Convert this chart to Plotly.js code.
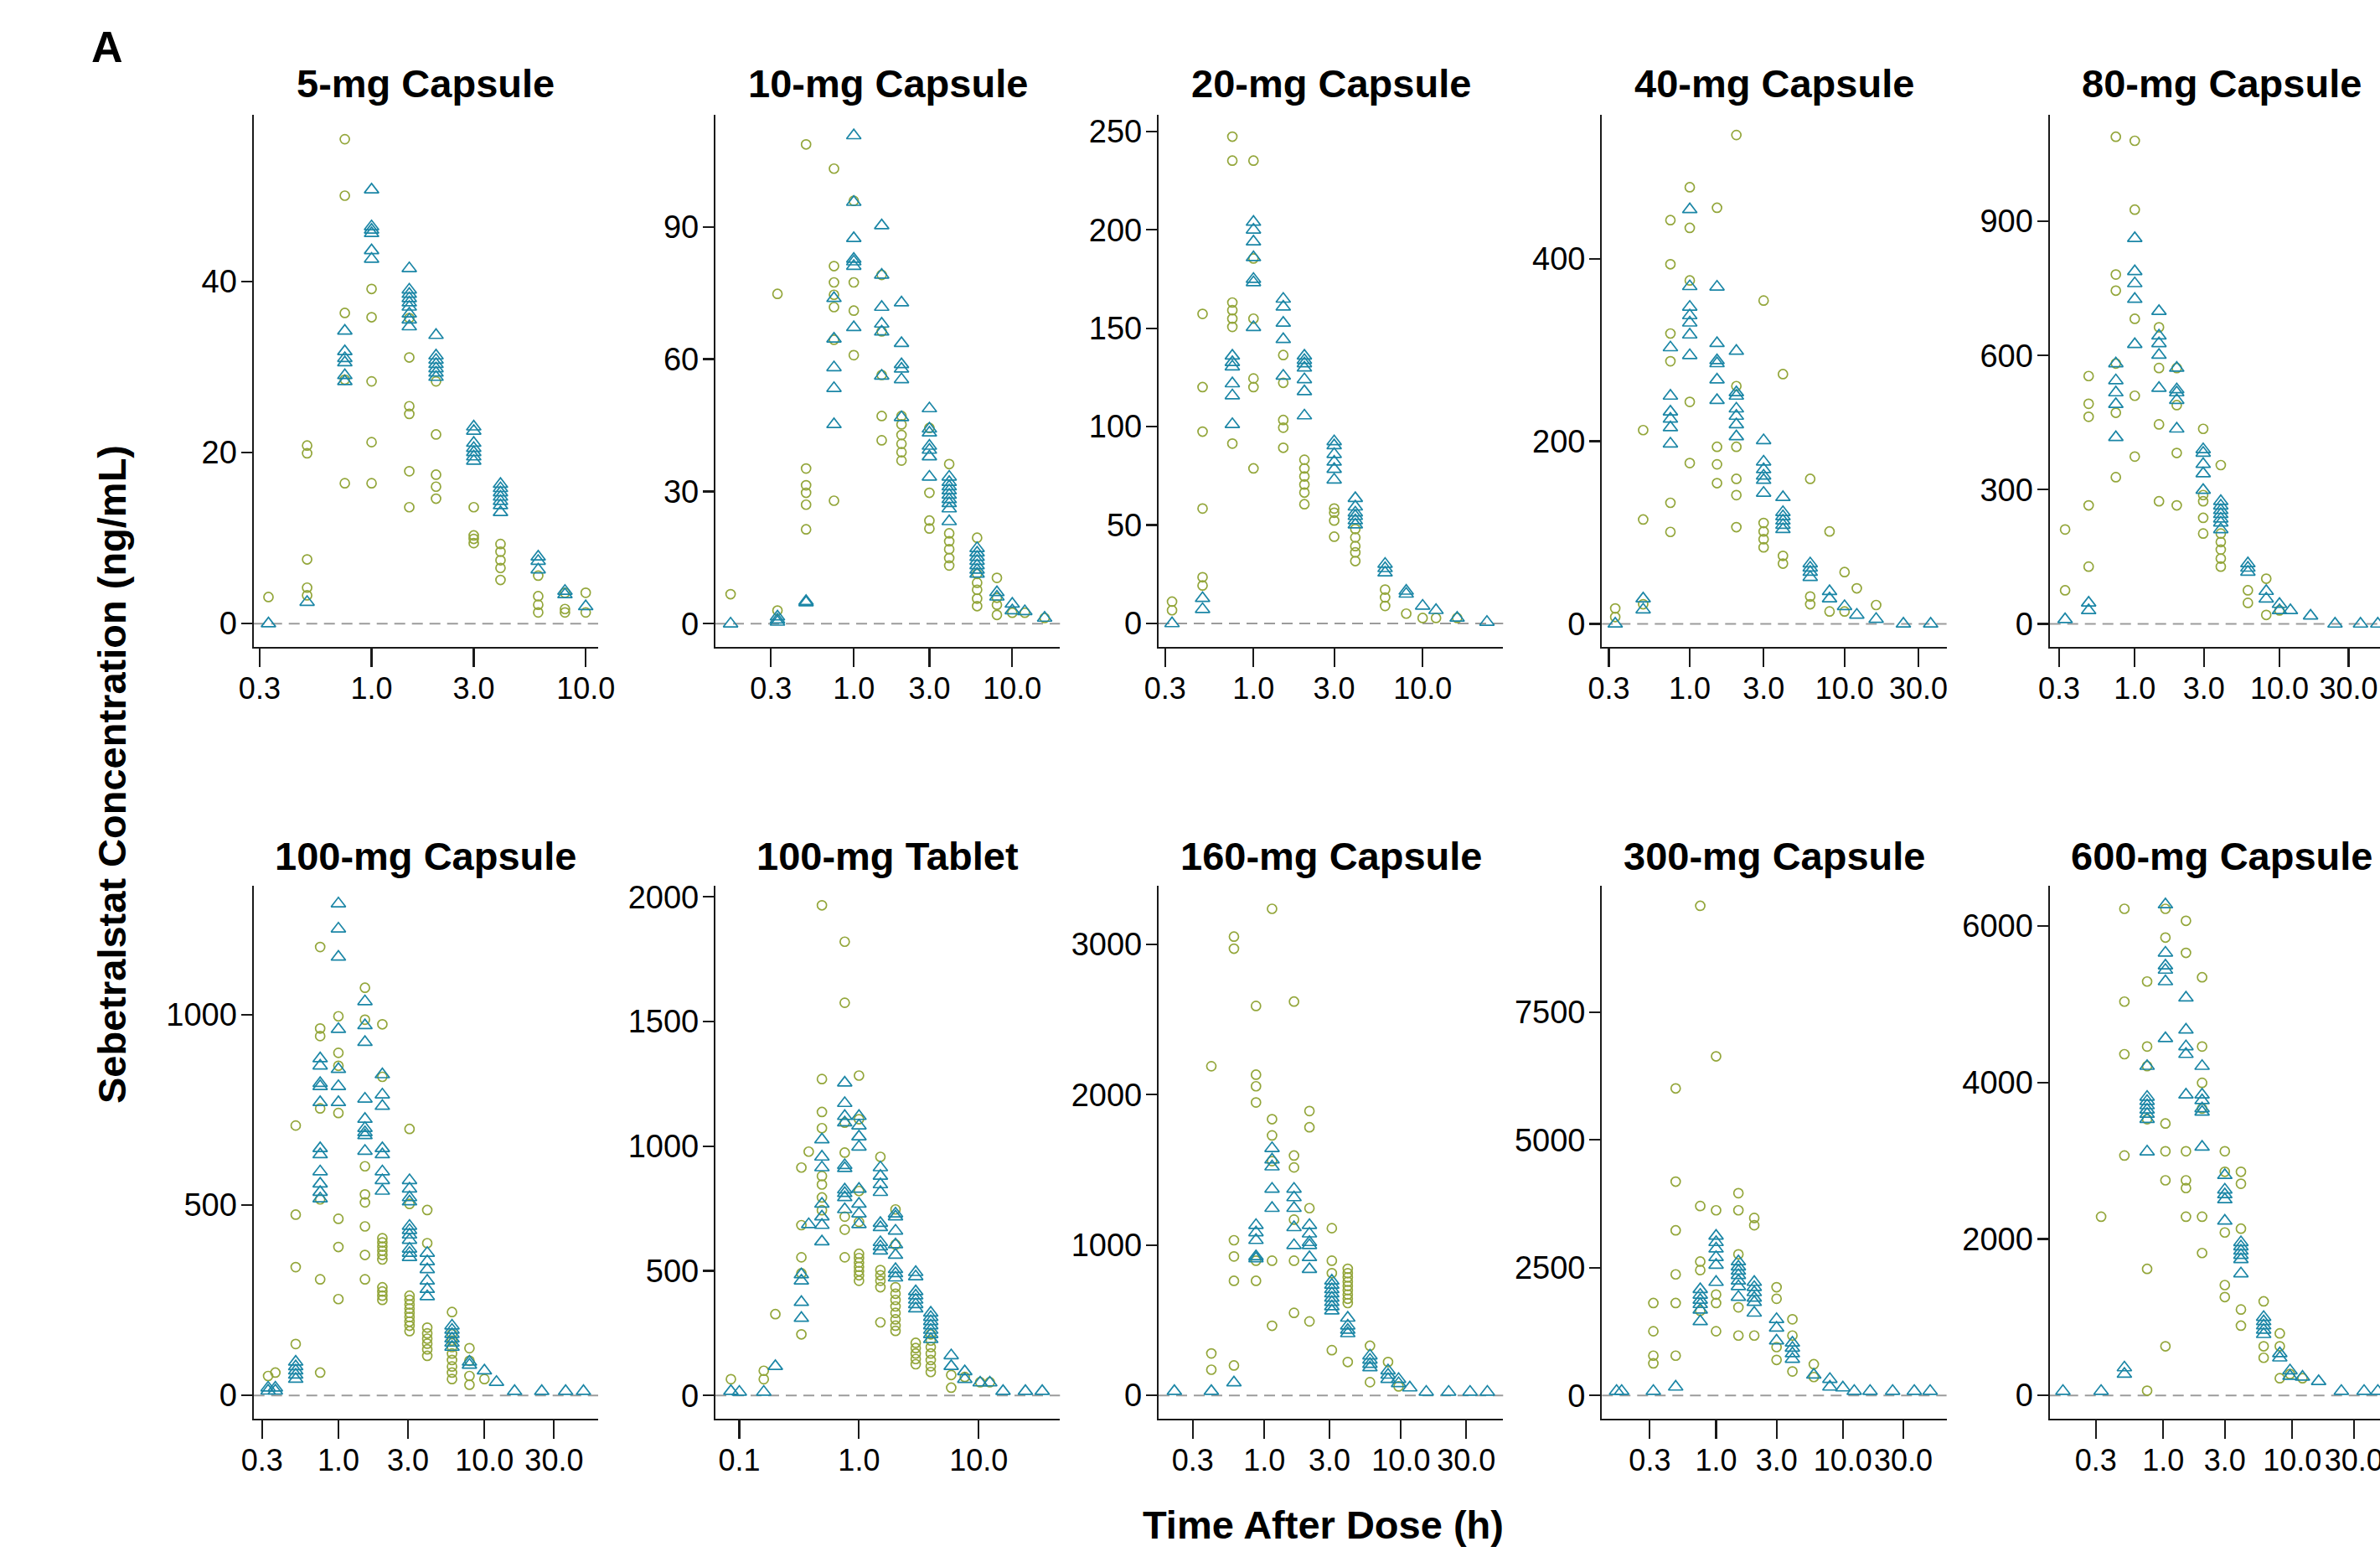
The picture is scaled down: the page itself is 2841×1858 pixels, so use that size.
<!DOCTYPE html>
<html>
<head>
<meta charset="utf-8">
<script src="https://cdn.plot.ly/plotly-3.0.1.min.js"></script>
<style>
html,body{margin:0;padding:0;overflow:hidden;background:#fff;}
#plot{width:2860px;height:1858px;}
</style>
</head>
<body>
<div id="plot"></div>
<script>
// ---------------- DATA (time in h, concentration in ng/mL) ----------------
const panelTitles = ["5-mg Capsule","10-mg Capsule","20-mg Capsule","40-mg Capsule","80-mg Capsule",
                     "100-mg Capsule","100-mg Tablet","160-mg Capsule","300-mg Capsule","600-mg Capsule"];

// green open circles: [time, [concentrations]]
const circ_5mgCap = [[0.33,[3.1]],[0.5,[20.8,19.9,7.5,4.2,3.3]],[0.75,[56.6,50.0,36.3,28.5,16.4]],
  [1,[39.1,35.8,28.3,21.2,16.4]],[1.5,[35.7,31.1,25.4,24.5,17.8,13.6]],[2,[28.3,22.1,17.4,16.0,14.6]],
  [3,[13.6,10.3,9.9,9.4]],[4,[9.3,8.4,7.4,6.5,5.1]],[6,[5.6,3.2,2.2,1.3]],[8,[3.6,1.7,1.3]],[10,[3.6,1.3]]];
const tri_5mgCap = [[0.33,[0]],[0.5,[2.5]],[0.75,[34.2,31.8,31.0,30.5,29.0,28.3]],
  [1,[50.7,46.4,46.0,45.6,43.6,42.6]],[1.5,[41.5,39.0,38.5,38.0,37.5,37.0,36.2,35.5,34.7]],
  [2,[33.7,31.3,30.8,30.3,29.8,29.3,28.8]],[3,[23.0,22.5,21.1,20.5,20.0,19.5,19.0]],
  [4,[16.3,15.8,15.3,14.8,14.3,13.8,13.0]],[6,[7.8,7.3,6.3]],[8,[3.8,3.4]],[10,[2.0]]];

const circ_10mgCap = [[0.167,[6.7]],[0.33,[74.8,3.0]],[0.5,[108.7,35.2,31.4,29.7,27.0,21.4]],
  [0.75,[103.2,81.1,77.4,74.6,71.8,64.4,27.9]],[1,[95.9,77.4,71.0,60.9]],[1.5,[79.1,66.3,56.4,47.1,41.6]],
  [2,[47.1,45.2,42.8,40.8,38.9,37.0]],[3,[44.4,29.7,23.4,21.6]],[4,[36.2,20.5,18.7,16.9,14.9,13.2]],
  [6,[19.5,11.3,9.3,7.7,5.7,4.0]],[8,[10.4,5.9,4.3,2.0]],[10,[2.5]],[12,[2.5]],[16,[1.3]]];
const tri_10mgCap = [[0.167,[0]],[0.33,[1.6,0.9,0.4]],[0.5,[5.1,4.8]],[0.75,[73.8,64.6,58.1,53.4,45.2]],
  [1,[110.7,95.6,87.4,82.7,82.1,81.1,67.2]],[1.5,[90.3,79.1,71.8,68.0,66.2,56.2]],
  [2,[72.8,63.6,58.8,57.8,55.4,46.8]],[3,[48.8,44.2,43.3,40.3,39.4,37.9,33.3]],
  [4,[33.3,32.1,31.1,30.2,29.2,28.2,27.3,26.1,23.2]],[6,[17.1,16.1,15.1,14.2,13.2,12.2,11.3]],
  [8,[7.1,6.1]],[10,[4.5,3.0]],[12,[2.8]],[16,[1.3]]];

const circ_20mgCap = [[0.33,[11.1,6.7]],[0.5,[157.3,120.1,97.5,58.4,23.5,19.3]],
  [0.75,[247.4,235.2,163.1,159.2,154.9,150.7,91.4]],[1,[235.2,185.5,154.9,124.5,120.1,78.8]],
  [1.5,[136.4,122.3,103.4,99.5,89.3]],[2,[83.2,78.8,74.7,70.6,66.5,60.6]],[3,[58.4,56.3,52.3,44.1]],
  [4,[48.0,43.7,39.3,36.1,31.7]],[6,[17.2,13.2,8.9]],[8,[5.0]],[10,[2.8]],[12,[2.8]],[16,[2.8]]];
const tri_20mgCap = [[0.33,[0]],[0.5,[12.8,7.2]],[0.75,[136,132.7,130.5,121.9,115.8,101.2]],
  [1,[204,200,194,186,175,173.3,150.5]],[1.5,[164.9,160.9,152.7,144.4,125.8]],
  [2,[136,133.8,132.1,129.9,124,117.9,105.6]],[3,[92.5,90.4,86,82.1,78.4,73.0]],
  [4,[63.6,59.3,56.3,54.5,52.3,50.2]],[6,[30.2,28.0,25.8]],[8,[16.5,15.0]],[10,[8.9]],[12,[6.7]],
  [16,[2.8]],[24,[0.7]]];

const circ_40mgCap = [[0.33,[16.9,7.5]],[0.5,[212.2,114.3,21.5]],[0.75,[442.2,393.9,318,287.6,132.6,100.7]],
  [1,[478.2,433.7,376.1,243.1,176.1]],[1.5,[455.7,193.9,174.7,154.1]],[2,[535.4,260.4,193.9,158.8,141,105.9]],
  [3,[354.1,110.5,101.2,92.7,83.8]],[4,[273.5,74.5,66]],[6,[158.8,30,21.5]],[8,[101.2,13.6]],
  [10,[56.7,13.6]],[12,[38.9]],[16,[20.6]]];
const tri_40mgCap = [[0.33,[0]],[0.5,[27.6,15.5]],[0.75,[302.6,249.6,232.3,224.4,215,197.2]],
  [1,[453.9,369.6,347.1,337.7,329.7,316.6,294.1]],[1.5,[369.1,307.3,288.5,285.2,267.4,244.9]],
  [2,[298.8,253.4,249.6,235.6,227.6,218.3,205.2]],[3,[200.9,177.5,169.1,162.1,157.4,143.3]],
  [4,[138.6,122.2,117.6,112.9,108.2,103.5]],[6,[66,61.4,56.7,51.1]],[8,[35.6,27.6]],[10,[19.2]],
  [12,[9.8]],[16,[5.2]],[24,[0]],[36,[0]]];

const circ_80mgCap = [[0.33,[211,75]],[0.48,[554,492,463,265,128]],[0.74,[1089,781,745,582,472,328]],
  [1,[1080,926,682,510,374]],[1.47,[663,572,446,274]],[1.95,[572,489,382,265]],
  [2.97,[436,288,274,237,202]],[3.93,[355,202,183,166,146,128]],[6.05,[75,47]],[8.1,[101,20]],[10,[30]]];
const tri_80mgCap = [[0.33,[10]],[0.48,[47,30]],[0.74,[582,544,517,491,417]],[1,[862,788,761,726,625]],
  [1.47,[699,644,627,601,527]],[1.95,[572,524,517,500,436]],[2.97,[390,382,357,336,299]],
  [3.93,[274,264,254,245,235,226,211]],[6.05,[135,125,116]],[8.1,[73,56]],[10,[44,30]],[11.9,[30]],
  [16.4,[18]],[24.2,[0]],[36.3,[0]],[47.8,[0]]];

const circ_100mgCap = [[0.33,[51]],[0.37,[60]],[0.51,[709,475,337,135]],[0.75,[1178,964,944,754,515,305,60]],
  [1,[996,900,866,742,464,390,253]],[1.52,[1071,987,602,528,507,444,369,305]],
  [2,[975,837,413,402,391,380,369,357,284,273,262,251]],[3.07,[700,503,262,251,239,228,217,206,194,183,169]],
  [4.06,[487,400,178,163,149,136,121,104]],[6,[219,161,144,127,110,93,76,60,43]],[7.9,[124,91,51,28]],[10,[43]]];
const tri_100mgCap = [[0.33,[20,12]],[0.37,[20,12]],[0.51,[88,76,65,54,43]],
  [0.75,[885,866,820,812,770,649,633,588,556,534,517]],[1,[1292,1226,1152,962,857,812,770]],
  [1.52,[1035,972,928,779,726,702,691,683,642]],[2,[843,790,760,649,633,588,565,537]],
  [3.07,[565,543,520,509,445,434,422,408,385,374,363]],[4.06,[374,352,331,301,279,260]],
  [6,[183,172,161,149,138,127]],[7.9,[88,80]],[10,[65]],[12.1,[35]],[16.1,[11]],[24.7,[11]],[36,[11]],[47.7,[11]]];

const circ_100mgTab = [[0.085,[65]],[0.16,[99,65]],[0.2,[326]],[0.33,[914,683,554,490,245]],[0.38,[978]],
  [0.49,[1966,1269,1137,1072,880,846,794,743]],[0.76,[1820,1575,1094,974,717,665,554]],
  [1,[1283,1108,820,696,568,551,533,516,499,482,460]],[1.51,[957,503,482,460,434,293]],
  [2.02,[746,605,434,408,383,357,331,305,280,259]],[2.98,[211,190,168,146,125]],
  [3.98,[245,220,194,168,142,117,94]],[5.9,[82,31]],[7.66,[74]],[10.3,[53]],[12.4,[53]]];
const tri_100mgTab = [[0.085,[17]],[0.1,[14]],[0.16,[14]],[0.2,[117]],[0.33,[485,460,374,310]],[0.38,[686]],
  [0.49,[1026,957,914,768,717,683,617]],[0.76,[1254,1172,1120,1094,923,911,825,811,794,746]],
  [1,[1120,1082,1038,997,828,768,729,686]],[1.51,[914,880,846,815,691,674,614,597,580]],
  [2.02,[729,717,660,605,563,506,489,472]],[2.98,[494,477,417,400,383,365,348]],
  [3.98,[331,314,297,280,262,245,225]],[5.9,[160,117]],[7.66,[96,65]],[10.3,[51]],[12.4,[51]],
  [16,[17]],[24.6,[17]],[34,[17]]];

const circ_160mgCap = [[0.41,[2189,279,171]],[0.6,[3051,2971,1032,924,762,199]],
  [0.87,[2590,2133,2056,1948,896,762]],[1.14,[3236,1837,1729,1558,896,463]],
  [1.65,[2619,1595,1516,1169,896,549]],[2.14,[1891,1783,1245,492]],[3.12,[1112,896,813,301]],
  [4.08,[842,813,785,756,728,700,671,643,614,222]],[5.93,[330,88]],[8.04,[222]],[9.6,[60]]];
const tri_160mgCap = [[0.22,[28]],[0.41,[28]],[0.6,[85]],[0.87,[1132,1083,1032,924,910]],
  [1.14,[1643,1567,1521,1373,1245]],[1.65,[1373,1316,1245,1117,998]],[2.14,[1132,1075,1018,998,918,839]],
  [3.12,[762,734,705,677,648,620,591,563]],[4.08,[515,463,435,412]],[5.93,[264,236,208,185]],
  [8.04,[165,136,108]],[9.6,[108,80]],[11.6,[51]],[15.3,[23]],[22.3,[23]],[32,[23]],[42.8,[23]]];

const circ_300mgCap = [[0.32,[1808,1256,778,628]],[0.48,[6010,4185,3231,2369,1808,778]],
  [0.75,[9584,3708,2620,2453,1657]],[1,[6638,3624,1975,1808,1256]],[1.5,[3959,3624,2762,1724,1172]],
  [2,[3474,3331,1172]],[3,[2118,1892,946,695]],[4,[1490,1172,469]],[5.9,[611,360]]];
const tri_300mgCap = [[0.164,[84]],[0.18,[84]],[0.32,[84]],[0.48,[167]],[0.75,[2076,1967,1867,1783,1674,1448]],
  [1,[3122,2997,2871,2704,2553,2218]],[1.5,[2620,2519,2436,2352,2243,2134,1925]],
  [2,[2218,2118,2017,1908,1825,1615]],[3,[1490,1323,1071]],[4,[1030,929,820,711]],[5.9,[402]],
  [7.9,[318,167]],[10,[151]],[12.3,[84]],[16.4,[84]],[24.7,[84]],[36.6,[84]],[48.8,[84]]];

const circ_600mgCap = [[0.33,[2284]],[0.5,[6219,5033,4361,3066]],[0.75,[5290,4459,4208,3530,1617,60]],
  [1.04,[6219,5852,3475,3120,2749,628]],[1.5,[6066,5656,3120,2749,2650,2284]],
  [2,[5344,4459,3995,3667,2284,1820]],[3,[3120,2858,2082,1410,1257]],[4,[2858,2705,2131,1098,891]],
  [6,[1202,628,481]],[8,[792,628,219]],[9.6,[273]],[12,[219]]];
const tri_600mgCap = [[0.167,[55]],[0.33,[55]],[0.5,[355,273]],[0.75,[4208,3814,3760,3705,3650,3596,3530,3115]],
  [1.04,[6273,5656,5492,5437,5290,4563]],[1.5,[5082,4672,4459,4361,3842]],
  [2,[4208,3842,3770,3667,3623,3175]],[3,[2814,2628,2568,2503,2230]],[4,[1956,1902,1847,1792,1738,1557]],
  [6,[1000,945,891,836,781]],[8,[536,481]],[9.6,[317,246]],[12,[235]],[16,[180]],[24,[55]],[36,[55]],[46,[55]]];

const circleSeries = [circ_5mgCap,circ_10mgCap,circ_20mgCap,circ_40mgCap,circ_80mgCap,
                      circ_100mgCap,circ_100mgTab,circ_160mgCap,circ_300mgCap,circ_600mgCap];
const triangleSeries = [tri_5mgCap,tri_10mgCap,tri_20mgCap,tri_40mgCap,tri_80mgCap,
                        tri_100mgCap,tri_100mgTab,tri_160mgCap,tri_300mgCap,tri_600mgCap];

// tick values / labels
const yTickVals = [[0,20,40],[0,30,60,90],[0,50,100,150,200,250],[0,200,400],[0,300,600,900],
                   [0,500,1000],[0,500,1000,1500,2000],[0,1000,2000,3000],[0,2500,5000,7500],[0,2000,4000,6000]];
const xTickVals = [[0.3,1,3,10],[0.3,1,3,10],[0.3,1,3,10],[0.3,1,3,10,30],[0.3,1,3,10,30],
                   [0.3,1,3,10,30],[0.1,1,10],[0.3,1,3,10,30],[0.3,1,3,10,30],[0.3,1,3,10,30]];
const xTickText = {0.1:"0.1",0.3:"0.3",1:"1.0",3:"3.0",10:"10.0",30:"30.0"};

// ---------------- LAYOUT GEOMETRY ----------------
const W = 2860, H = 1858;
const colLeft = [302.7, 854.0, 1383.0, 1912.3, 2446.7];
const panelW = 411.3;
const rowTop = [136.5, 1056.5], rowBot = [771.7, 1692.8];
const xRanges = [[-0.551,1.058],[-0.873,1.301],[-0.561,1.476],[-0.567,1.659],[-0.588,1.793],
                 [-0.581,1.779],[-1.2,1.68],[-0.773,1.747],[-0.9,1.818],[-0.88,1.79]];
const yRanges = [[-2.7,59.5],[-5.2,115.5],[-11.8,258.7],[-25,558],[-51,1139],
                 [-60.8,1340],[-92.8,2046],[-154,3392],[-453,9985],[-296,6519]];

const GREEN = '#93A63A', BLUE = '#1B86A6';
const FONT = 'Liberation Sans, Arial, Helvetica, sans-serif';

function expand(groups){
  const x=[], y=[];
  groups.forEach(g => g[1].forEach(v => { x.push(g[0]); y.push(v); }));
  return {x, y};
}

const traces = [];
const layout = {
  width: W, height: H,
  margin: {l:0, r:0, t:0, b:0},
  paper_bgcolor: '#fff', plot_bgcolor: 'rgba(0,0,0,0)',
  showlegend: false,
  font: {family: FONT, color: '#000', size: 36},
  shapes: [], annotations: []
};

for (let i = 0; i < 10; i++) {
  const col = i % 5, row = Math.floor(i / 5);
  const k = i + 1, sfx = k === 1 ? '' : String(k);
  const x0 = colLeft[col], x1 = colLeft[col] + panelW;
  const xd = [x0 / W, Math.min(1, x1 / W)];
  const yd = [1 - rowBot[row] / H, 1 - rowTop[row] / H];

  const c = expand(circleSeries[i]);
  const t = expand(triangleSeries[i]);
  traces.push({type:'scatter', mode:'markers', x:c.x, y:c.y, xaxis:'x'+sfx, yaxis:'y'+sfx,
    cliponaxis:false, hoverinfo:'skip',
    marker:{symbol:'circle-open', size:11, color:GREEN, line:{width:1.7}}});
  traces.push({type:'scatter', mode:'markers', x:t.x, y:t.y, xaxis:'x'+sfx, yaxis:'y'+sfx,
    cliponaxis:false, hoverinfo:'skip',
    marker:{symbol:'triangle-up-open', size:15, color:BLUE, line:{width:1.7}}});

  layout['xaxis'+sfx] = {
    domain: xd, anchor: 'y'+sfx, type: 'log', range: xRanges[i],
    showline: true, linecolor: '#1a1a1a', linewidth: 2.2, mirror: false,
    showgrid: false, zeroline: false,
    ticks: 'outside', ticklen: 22, tickwidth: 2.2, tickcolor: '#1a1a1a',
    tickmode: 'array', tickvals: xTickVals[i], ticktext: xTickVals[i].map(v => xTickText[v]),
    tickangle: 0, tickfont: {family: FONT, size: 36, color: '#000'}, ticklabelstandoff: -5,
    fixedrange: true
  };
  layout['yaxis'+sfx] = {
    domain: yd, anchor: 'x'+sfx, range: yRanges[i],
    showline: true, linecolor: '#1a1a1a', linewidth: 2.2,
    showgrid: false, zeroline: false,
    ticks: 'outside', ticklen: 13, tickwidth: 2.2, tickcolor: '#1a1a1a',
    tickmode: 'array', tickvals: yTickVals[i], ticktext: yTickVals[i].map(String),
    tickfont: {family: FONT, size: 38, color: '#000'}, ticklabelstandoff: -3,
    fixedrange: true
  };
  layout.shapes.push({type:'line', xref:'x'+sfx+' domain', x0:0, x1:1, yref:'y'+sfx, y0:0, y1:0,
    layer:'below', line:{color:'#9c9c9c', width:2, dash:'13px,8px'}});
  layout.annotations.push({text:'<b>'+panelTitles[i]+'</b>', xref:'paper', yref:'paper',
    x:(x0 + x1) / 2 / W, y: 1 - (row === 0 ? 100 : 1021) / H, xanchor:'center', yanchor:'middle',
    showarrow:false, font:{family:FONT, size:47, color:'#000'}});
}

layout.annotations.push({text:'<b>A</b>', xref:'paper', yref:'paper', x:128/W, y:1-56/H,
  xanchor:'center', yanchor:'middle', showarrow:false, font:{family:FONT, size:52, color:'#000'}});
layout.annotations.push({text:'<b>Time After Dose (h)</b>', xref:'paper', yref:'paper', x:1580/W, y:1-1819/H,
  xanchor:'center', yanchor:'middle', showarrow:false, font:{family:FONT, size:47, color:'#000'}});
layout.annotations.push({text:'<b>Sebetralstat Concentration (ng/mL)</b>', xref:'paper', yref:'paper',
  x:133/W, y:1-924/H, xanchor:'center', yanchor:'middle', textangle:-90, showarrow:false,
  font:{family:FONT, size:47, color:'#000'}});

Plotly.newPlot('plot', traces, layout, {displayModeBar:false, staticPlot:true});
</script>
</body>
</html>
